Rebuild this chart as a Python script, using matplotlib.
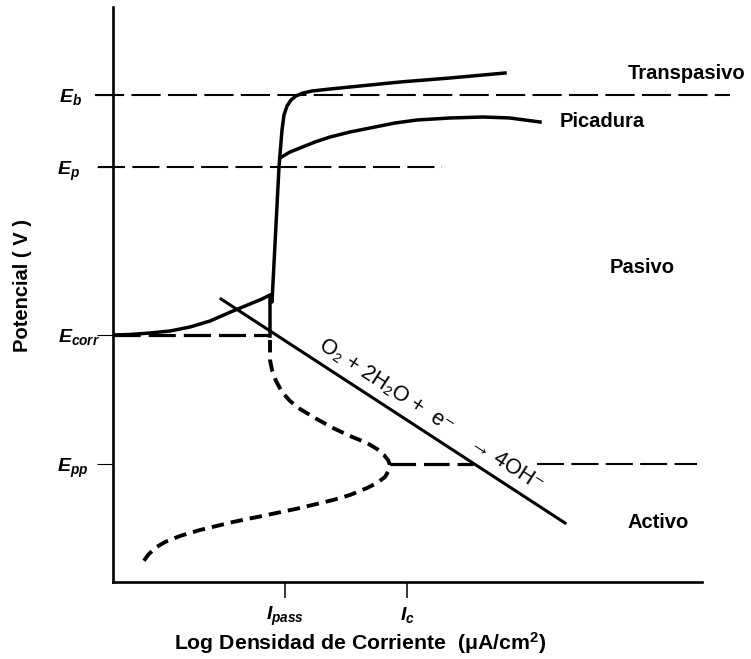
"""
Curva de polarización esquemática (acero inoxidable): zonas activa,
pasiva, picadura y transpasiva, con la recta de reducción de oxígeno.
"""

import matplotlib
matplotlib.use("Agg")
import matplotlib.pyplot as plt

# ---------------------------------------------------------------
# Datos (unidades arbitrarias: x = log i, y = E,
# con el eje de potencial invertido para que suba hacia arriba)
# ---------------------------------------------------------------

# rama anódica desde Ecorr hasta la "nariz"
anodic_x = [113, 130, 150, 170, 190, 210, 233, 250, 262, 270]
anodic_y = [335, 334.5, 333, 331, 327, 321, 311, 304, 299, 295]

# tramo vertical (pasivo) y transpasivo
passive_x = [270, 270, 272, 279, 282, 284, 287, 291, 296, 303, 312,
             330, 350, 400, 450, 505]
passive_y = [336, 295, 302, 167, 130, 115, 106, 100, 96, 93, 91,
             89, 87, 82, 78, 73]

# rama de picadura
pit_x = [280, 290, 300, 315, 330, 350, 370, 395, 417, 450, 483, 510,
         525, 540]
pit_y = [158, 152, 148, 142, 137, 132, 128, 123, 120, 118, 117, 118,
         120, 122]

# rama activa (discontinua)
active_x = [270, 270, 272, 276, 282, 290, 300, 315, 333, 350, 367, 377,
            384, 388, 390, 389, 385, 377, 367, 350, 333, 300, 267, 233,
            200, 180, 165, 155, 148, 143]
active_y = [340, 360, 370, 381, 392, 401, 409, 418, 428, 436, 443, 449,
            455, 460, 465, 470, 477, 483, 488, 495, 500, 508, 515, 522,
            530, 536, 542, 548, 555, 562]

# recta catódica O2 + 2H2O + e- -> 4OH-
cath_x = [221, 565]
cath_y = [299, 523]

# potenciales característicos
pot_ticks = [95, 167, 335, 464]
pot_labels = [r"$E_b$", r"$E_p$", r"$E_{corr}$", r"$E_{pp}$"]
pot_pads = [11, 12, -2, 6.5]

cur_ticks = [285, 407]
cur_labels = [r"$I_{pass}$", r"$I_c$"]

XMIN, XMAX = 113, 702
YMIN, YMAX = 582, 7

plt.rcParams["font.family"] = ["Liberation Sans", "DejaVu Sans"]
plt.rcParams["font.weight"] = "bold"
plt.rcParams["mathtext.fontset"] = "custom"
plt.rcParams["mathtext.it"] = "Liberation Sans:italic:bold"
plt.rcParams["mathtext.rm"] = "Liberation Sans:bold"
plt.rcParams["mathtext.bf"] = "Liberation Sans:bold"

W, H = 751, 659
fig = plt.figure(figsize=(W / 100, H / 100), dpi=100)
ax = fig.add_axes([XMIN / W, (H - YMIN) / H, (XMAX - XMIN) / W,
                   (YMIN - YMAX) / H])
ax.set_xlim(XMIN, XMAX)
ax.set_ylim(YMIN, YMAX)

for side in ("top", "right"):
    ax.spines[side].set_visible(False)
for side in ("left", "bottom"):
    ax.spines[side].set_linewidth(1.9)

# líneas de referencia horizontales
ax.plot([95, 730], [95, 95], color="black", lw=1.5,
        dashes=(14, 3.5), clip_on=False)
ax.plot([98, 442], [167, 167], color="black", lw=1.5,
        dashes=(13, 3.5), clip_on=False)
ax.plot([113, 270], [335, 335], color="black", lw=2.3,
        dashes=(8.5, 2.5))
ax.plot([390, 473], [464, 464], color="black", lw=2.3,
        dashes=(8, 2.5))
ax.plot([537, 697], [464, 464], color="black", lw=1.5,
        dashes=(13, 3.5))

# curvas
ax.plot(anodic_x, anodic_y, color="black", lw=2.5,
        solid_capstyle="round", solid_joinstyle="round")
ax.plot(passive_x, passive_y, color="black", lw=2.5,
        solid_joinstyle="round")
ax.plot(pit_x, pit_y, color="black", lw=2.5, solid_joinstyle="round")
ax.plot(active_x, active_y, color="black", lw=2.8, dashes=(3.2, 1.8),
        dash_joinstyle="round")
ax.plot(cath_x, cath_y, color="black", lw=2.2)

# ejes
ax.set_yticks(pot_ticks, pot_labels, fontsize=14)
ax.tick_params(axis="y", length=11.5, width=0.8)
for tick, pad in zip(ax.yaxis.get_major_ticks(), pot_pads):
    tick.set_pad(pad)

ax.set_xticks(cur_ticks, cur_labels, fontsize=14)
ax.tick_params(axis="x", length=11.5, width=1.1, pad=5)

ax.set_xlabel("Log Densidad de Corriente  (\u03bcA/cm$^2$)", fontsize=15.3,
              fontweight="bold")
ax.xaxis.set_label_coords((360 - XMIN) / (XMAX - XMIN),
                          -(643 - YMIN) / (YMIN - YMAX))
ax.xaxis.label.set_va("center")

ax.set_ylabel("Potencial ( V )", fontsize=14.5, fontweight="bold")
ax.yaxis.set_label_coords((23 - XMIN) / (XMAX - XMIN),
                          (YMIN - 285) / (YMIN - YMAX))
ax.yaxis.label.set_va("center")

# rótulos de zonas
for label, x, y in [("Transpasivo", 628, 74), ("Picadura", 560, 122),
                    ("Pasivo", 610, 268), ("Activo", 628, 523)]:
    ax.text(x, y, label, fontsize=14.5, fontweight="bold",
            ha="left", va="center", clip_on=False)

ax.text(431, 415, "O\u2082 + 2H\u2082O +  e\u207b    \u2192 4OH\u207b",
        fontsize=15.5, fontweight="normal", rotation=-33,
        rotation_mode="anchor", ha="center", va="center",
        family=["Liberation Sans", "DejaVu Sans"])

fig.savefig("out.png", dpi=100)
